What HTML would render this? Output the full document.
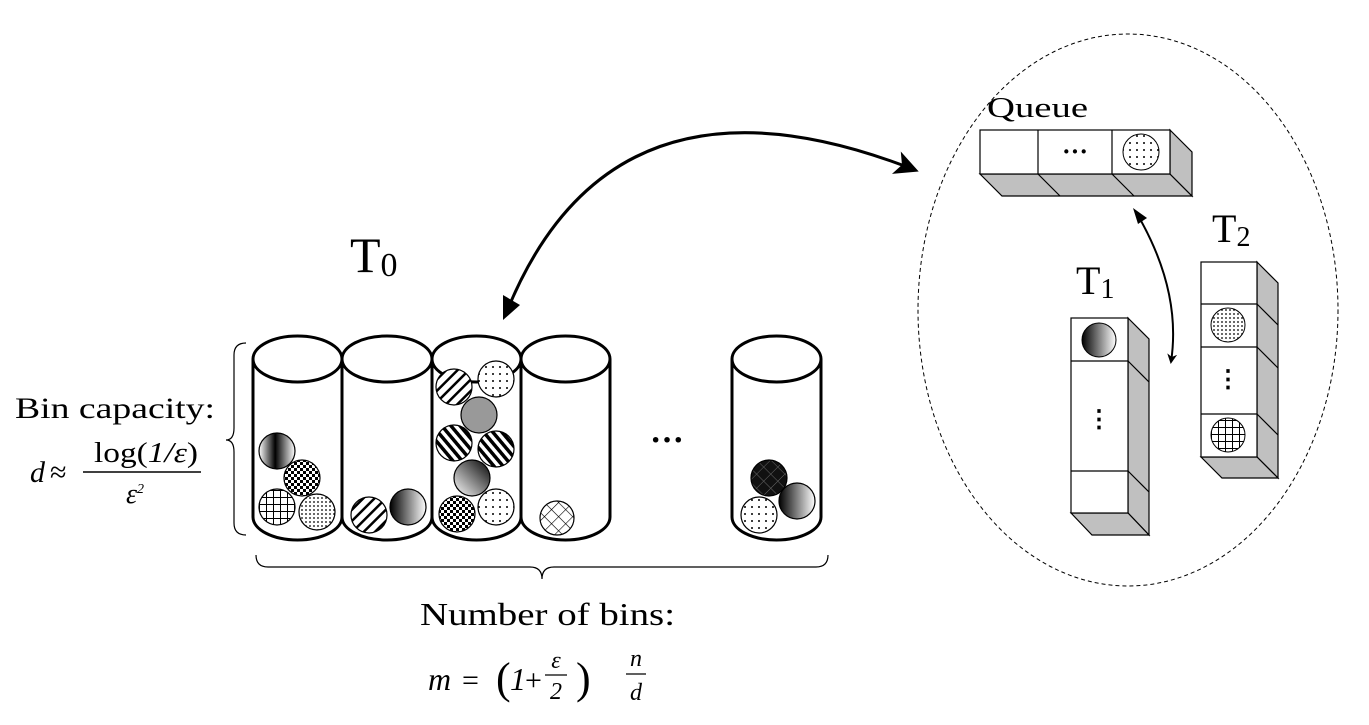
<!DOCTYPE html>
<html><head><meta charset="utf-8"><style>
html,body{margin:0;padding:0;background:#fff;}
svg{display:block;font-family:"Liberation Serif",serif;}
</style></head><body>
<svg width="1369" height="725" viewBox="0 0 1369 725">
<defs>
<linearGradient id="gH" x1="0" x2="1"><stop offset="0" stop-color="#fff"/><stop offset=".45" stop-color="#000"/><stop offset="1" stop-color="#fff"/></linearGradient>
<linearGradient id="gR" x1="0" x2="1"><stop offset="0" stop-color="#000"/><stop offset="1" stop-color="#fff"/></linearGradient>
<linearGradient id="gD" x1="1" y1="0" x2="0" y2="1"><stop offset="0" stop-color="#000"/><stop offset="1" stop-color="#fff"/></linearGradient>
<pattern id="pDots" width="7" height="7" patternUnits="userSpaceOnUse"><rect width="7" height="7" fill="#fff"/><circle cx="3" cy="3" r="1" fill="#000"/></pattern>
<pattern id="pFine" width="4" height="4" patternUnits="userSpaceOnUse"><rect width="4" height="4" fill="#fff"/><circle cx="2" cy="2" r=".9" fill="#000"/></pattern>
<pattern id="pGrid" width="7" height="7" patternUnits="userSpaceOnUse"><rect width="7" height="7" fill="#fff"/><path d="M0 0H7M0 0V7" stroke="#000" stroke-width="2"/></pattern>
<pattern id="pChk" width="6" height="6" patternUnits="userSpaceOnUse"><rect width="6" height="6" fill="#fff"/><rect width="3" height="3" fill="#000"/><rect x="3" y="3" width="3" height="3" fill="#000"/></pattern>
<pattern id="pDiag" width="8" height="8" patternUnits="userSpaceOnUse" patternTransform="rotate(45)"><rect width="8" height="8" fill="#fff"/><rect width="2.5" height="8" fill="#000"/></pattern>
<pattern id="pDiag2" width="7" height="7" patternUnits="userSpaceOnUse" patternTransform="rotate(-40)"><rect width="7" height="7" fill="#fff"/><rect width="3.5" height="7" fill="#000"/></pattern>
<pattern id="pX" width="10" height="10" patternUnits="userSpaceOnUse" patternTransform="rotate(45)"><rect width="10" height="10" fill="#fff"/><path d="M0 0H10M0 0V10" stroke="#000" stroke-width="1.2"/></pattern>
<pattern id="pDX" width="10" height="10" patternUnits="userSpaceOnUse" patternTransform="rotate(45)"><rect width="10" height="10" fill="#111"/><path d="M0 0H10M0 0V10" stroke="#666" stroke-width="1"/></pattern>
<marker id="ah" markerWidth="10" markerHeight="10" refX="8" refY="5" orient="auto" markerUnits="userSpaceOnUse" viewBox="0 0 10 10"><path d="M0 0L10 5L0 10L3 5Z" fill="#000"/></marker>
<marker id="ahB" markerWidth="24" markerHeight="24" refX="20" refY="12" orient="auto" markerUnits="userSpaceOnUse" viewBox="0 0 24 24"><path d="M0 0L24 12L0 24L6 12Z" fill="#000"/></marker>
</defs>

<g fill="none" stroke="#000" stroke-width="3">
<g><path d="M253 359V517A44.5 23 0 0 0 342 517V359"/><ellipse cx="297.5" cy="359" rx="44.5" ry="23"/></g>
<g><path d="M342 359V517A45 23 0 0 0 432 517V359"/><ellipse cx="387" cy="359" rx="45" ry="23"/></g>
<g><path d="M432 359V517A44.5 23 0 0 0 521 517V359"/><ellipse cx="476.5" cy="359" rx="44.5" ry="23"/></g>
<g><path d="M521 359V517A44.5 23 0 0 0 610 517V359"/><ellipse cx="565.5" cy="359" rx="44.5" ry="23"/></g>
<g><path d="M732 359V517A44.5 23 0 0 0 821 517V359"/><ellipse cx="776.5" cy="359" rx="44.5" ry="23"/></g>
</g>
<g stroke="#000" stroke-width="1.2">
<circle cx="277" cy="451" r="18" fill="url(#gH)"/>
<circle cx="302" cy="478" r="18" fill="url(#pChk)"/>
<circle cx="277" cy="507" r="18" fill="url(#pGrid)"/>
<circle cx="317" cy="512" r="18" fill="url(#pFine)"/>
<circle cx="369" cy="515" r="18" fill="url(#pDiag)"/>
<circle cx="408" cy="507" r="18" fill="url(#gR)"/>
<circle cx="454" cy="387" r="18" fill="url(#pDiag)"/>
<circle cx="496" cy="379" r="18" fill="url(#pDots)"/>
<circle cx="479" cy="415" r="18" fill="#999"/>
<circle cx="454" cy="443" r="18" fill="url(#pDiag2)"/>
<circle cx="496" cy="449" r="18" fill="url(#pDiag2)"/>
<circle cx="472" cy="478" r="18" fill="url(#gD)"/>
<circle cx="457" cy="514" r="18" fill="url(#pChk)"/>
<circle cx="496" cy="507" r="18" fill="url(#pDots)"/>
<circle cx="557" cy="518" r="17" fill="url(#pX)"/>
<circle cx="769" cy="478" r="18" fill="url(#pDX)"/>
<circle cx="797" cy="501" r="18" fill="url(#gR)"/>
<circle cx="759" cy="515" r="18" fill="url(#pDots)"/>
</g>
<text x="667" y="451" font-size="34" font-weight="bold" text-anchor="middle">···</text>

<text x="350" y="272" font-size="50">T<tspan font-size="34" dy="4">0</tspan></text>

<path d="M246 343Q234 343 234 355V428Q234 440 226 440Q234 440 234 452V523Q234 535 246 535" fill="none" stroke="#000" stroke-width="1.2"/>
<text x="15" y="418" font-size="30" textLength="200" lengthAdjust="spacingAndGlyphs">Bin capacity:</text>
<g>
<text x="30" y="482" font-size="30" font-style="italic">d</text>
<text x="50" y="482" font-size="30">≈</text>
<text x="146" y="462" font-size="28" text-anchor="middle" textLength="104" lengthAdjust="spacingAndGlyphs">log(<tspan font-style="italic">1/ε</tspan>)</text>
<line x1="83" y1="472" x2="201" y2="472" stroke="#000" stroke-width="1.5"/>
<text x="135" y="503" font-size="28" font-style="italic" text-anchor="middle">ε<tspan font-size="14" dy="-10">2</tspan></text>
</g>

<path d="M256 555Q256 567 268 567H530Q542 567 542 579Q542 567 554 567H816Q828 567 828 555" fill="none" stroke="#000" stroke-width="1.2"/>
<text x="420" y="625" font-size="32" textLength="255" lengthAdjust="spacingAndGlyphs">Number of bins:</text>
<g>
<text x="428" y="690" font-size="32" font-style="italic">m</text>
<text x="462" y="690" font-size="30">=</text>
<text x="496" y="693" font-size="44">(</text>
<text x="510" y="690" font-size="32" font-style="italic">1</text>
<text x="525" y="690" font-size="30">+</text>
<text x="556" y="668" font-size="24" font-style="italic" text-anchor="middle">ε</text>
<line x1="545" y1="675" x2="567" y2="675" stroke="#000" stroke-width="1.2"/>
<text x="556" y="699" font-size="24" font-style="italic" text-anchor="middle">2</text>
<text x="576" y="693" font-size="44">)</text>
<text x="636" y="666" font-size="24" font-style="italic" text-anchor="middle">n</text>
<line x1="626" y1="674" x2="646" y2="674" stroke="#000" stroke-width="1.2"/>
<text x="636" y="700" font-size="24" font-style="italic" text-anchor="middle">d</text>
</g>

<path d="M505 316Q610 50 915 170" fill="none" stroke="#000" stroke-width="3" marker-end="url(#ahB)"/>
<path d="M503 320L503 295L520 305Z" fill="#000"/>

<ellipse cx="1128" cy="310" rx="210" ry="276" fill="none" stroke="#000" stroke-width="1" stroke-dasharray="4 3"/>

<g stroke="#000" stroke-width="1.2">
<path d="M980 174L1002 196H1192L1170 174Z" fill="#c0c0c0"/>
<path d="M1170 130L1192 152V196L1170 174Z" fill="#c0c0c0"/>
<path d="M1038 174L1060 196M1112 174L1134 196" fill="none"/>
<rect x="980" y="130" width="190" height="44" fill="#fff"/>
<path d="M1038 130V174M1112 130V174" fill="none"/>
<circle cx="1141" cy="152" r="18" fill="url(#pDots)" stroke-width="1"/>
</g>
<text x="1075" y="160" font-size="26" text-anchor="middle" font-weight="bold">···</text>
<text x="987" y="117" font-size="29" textLength="101" lengthAdjust="spacingAndGlyphs">Queue</text>

<path d="M1136 212Q1182 290 1171 362" fill="none" stroke="#000" stroke-width="2" marker-end="url(#ah)"/>
<path d="M1133 208L1147 218L1138 224Z" fill="#000"/>

<g stroke="#000" stroke-width="1.2">
<path d="M1128 318L1149 339V535L1128 513Z" fill="#c0c0c0"/>
<path d="M1071 513L1092 535H1149L1128 513Z" fill="#c0c0c0"/>
<path d="M1128 361L1149 382M1128 471L1149 492" fill="none"/>
<rect x="1071" y="318" width="57" height="195" fill="#fff"/>
<path d="M1071 361H1128M1071 471H1128" fill="none"/>
<circle cx="1099" cy="340" r="17" fill="url(#gR)" stroke-width="1"/>
</g>
<text x="1099" y="427" font-size="24" text-anchor="middle" font-weight="bold">⋮</text>
<text x="1076" y="294" font-size="40">T<tspan font-size="28" dy="4">1</tspan></text>

<g stroke="#000" stroke-width="1.2">
<path d="M1257 262L1278 283V478L1257 457Z" fill="#c0c0c0"/>
<path d="M1201 457L1222 478H1278L1257 457Z" fill="#c0c0c0"/>
<path d="M1257 304L1278 325M1257 347L1278 368M1257 414L1278 435" fill="none"/>
<rect x="1201" y="262" width="56" height="195" fill="#fff"/>
<path d="M1201 304H1257M1201 347H1257M1201 414H1257" fill="none"/>
<circle cx="1228" cy="325" r="17" fill="url(#pFine)" stroke-width="1"/>
<circle cx="1228" cy="435" r="17" fill="url(#pGrid)" stroke-width="1"/>
</g>
<text x="1228" y="387" font-size="24" text-anchor="middle" font-weight="bold">⋮</text>
<text x="1212" y="242" font-size="40">T<tspan font-size="28" dy="4">2</tspan></text>
</svg>
</body></html>
